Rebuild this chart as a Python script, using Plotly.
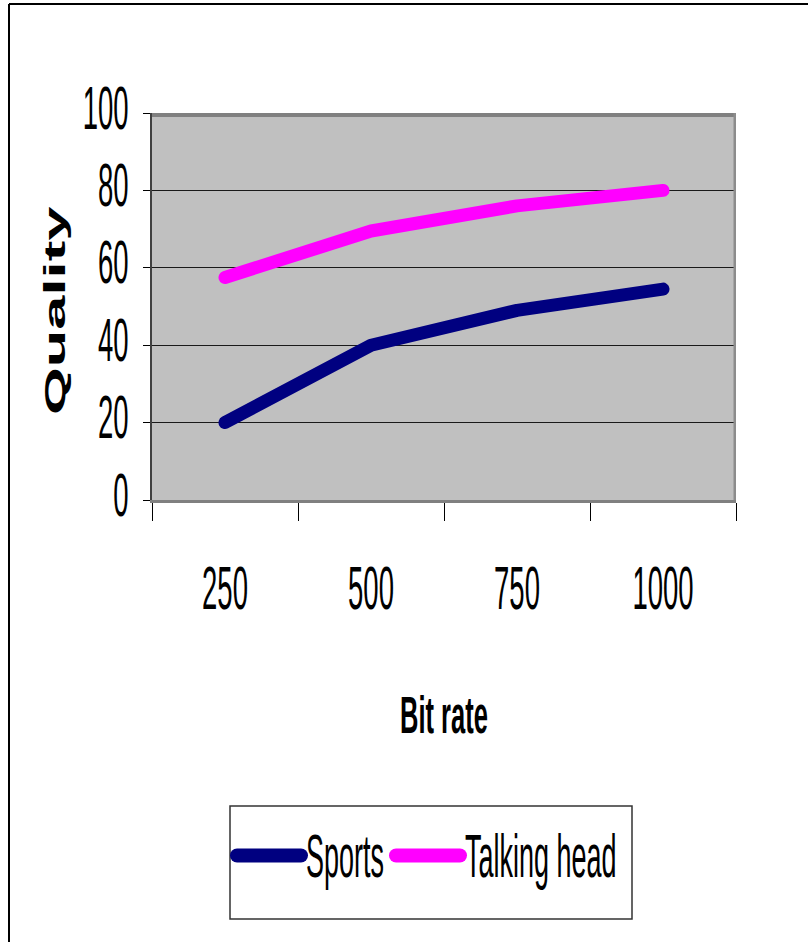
import plotly.graph_objects as go

bit_rate = ["250", "500", "750", "1000"]
sports = [20, 40, 49, 54.5]
talking_head = [57.5, 69.5, 76, 80]
y_ticks = [0, 20, 40, 60, 80, 100]

FONT = "Liberation Sans, Arial, sans-serif"

# pixel -> paper helpers (plot area: x 152..736, y 113..500)
L, R, T, B = 152, 736, 113, 500
def px(x):
    return (x - L) / (R - L)
def py(y):
    return (B - y) / (B - T)

fig = go.Figure()
fig.add_trace(go.Scatter(x=bit_rate, y=sports, mode="lines", name="Sports",
                         line=dict(color="#000080", width=13)))
fig.add_trace(go.Scatter(x=bit_rate, y=talking_head, mode="lines", name="Talking head",
                         line=dict(color="#FF00FF", width=13)))

fig.update_layout(
    width=808, height=942,
    margin=dict(l=L, r=808 - R, t=T, b=942 - B),
    paper_bgcolor="white", plot_bgcolor="#C0C0C0",
    showlegend=True,
    legend=dict(orientation="h", x=px(266), y=py(856), xanchor="left", yanchor="middle",
                font=dict(family=FONT, size=27, color="black"),
                bgcolor="rgba(0,0,0,0)", entrywidthmode="pixels", entrywidth=114),
    xaxis=dict(type="category", range=[-0.5, 3.5], tickson="boundaries", ticks="outside",
               ticklen=18, tickcolor="black", tickwidth=1, showgrid=False,
               showline=True, linecolor="#808080", linewidth=3,
               tickfont=dict(family=FONT, size=27.5, color="black"),
               ticklabelstandoff=61, fixedrange=True),
    yaxis=dict(range=[0, 100], tickvals=y_ticks, ticks="outside", ticklen=7,
               tickcolor="black", tickwidth=1, showgrid=True, gridcolor="#1a1a1a",
               gridwidth=1, zeroline=False,
               showline=True, linecolor="#404040", linewidth=2,
               tickfont=dict(family=FONT, size=27.5, color="black"),
               ticklabelstandoff=9, fixedrange=True),
    annotations=[
        dict(text="<b>Bit rate</b>", x=0.5, y=py(715), xref="paper", yref="paper",
             showarrow=False, xanchor="center", yanchor="middle",
             font=dict(family=FONT, size=25.5, color="black")),
        dict(text="<b>Quality</b>", x=px(54.5), y=py(311), xref="paper", yref="paper",
             showarrow=False, xanchor="center", yanchor="middle", textangle=-90,
             font=dict(family=FONT, size=30, color="black")),
    ],
    shapes=[
        dict(type="rect", xref="paper", yref="paper", x0=0, x1=1, y0=py(117), y1=1,
             fillcolor="#808080", line=dict(width=0)),
        dict(type="rect", xref="paper", yref="paper", x0=px(733.5), x1=1, y0=0, y1=1,
             fillcolor="#8c8c8c", line=dict(width=0)),
        dict(type="rect", xref="paper", yref="paper", x0=px(230), x1=px(632),
             y0=py(919), y1=py(806), line=dict(color="#333333", width=1.5)),
        dict(type="line", xref="paper", yref="paper", x0=px(9), x1=px(808),
             y0=py(4), y1=py(4), line=dict(color="black", width=2)),
        dict(type="line", xref="paper", yref="paper", x0=px(9), x1=px(9),
             y0=py(4), y1=py(942), line=dict(color="black", width=2)),
    ],
)

post_js = """
document.body.style.margin = '0';
(function(){
  function stretch(t, sx, sy, dy){
    var tr = t.getAttribute('transform') || '';
    if (tr.indexOf('scale(') >= 0) return;
    var b = t.getBBox();
    var cx = b.x + b.width/2, cy = b.y + b.height/2;
    t.setAttribute('transform', tr + ' translate(0,' + (dy || 0) + ') translate(' + cx + ',' + cy +
                   ') scale(' + sx + ',' + sy + ') translate(' + (-cx) + ',' + (-cy) + ')');
  }
  function apply(){
    document.querySelectorAll('.xtick text, .legendtext').forEach(function(t){ stretch(t, 1, 2.25, 0); });
    document.querySelectorAll('.ytick text').forEach(function(t){ stretch(t, 1, 2.25, -6); });
    document.querySelectorAll('.annotation-text').forEach(function(t){
      if (t.textContent.indexOf('Quality') >= 0) stretch(t, 2.05, 1, 0);
      else stretch(t, 1, 2.05, 0);
    });
    document.querySelectorAll('.js-line').forEach(function(p){
      p.style.strokeLinecap = 'round'; p.style.strokeLinejoin = 'round';
    });
    document.querySelectorAll('.legendlines path').forEach(function(p){
      p.setAttribute('d', 'M-29,0h64');
      p.style.strokeWidth = '14px';
      p.style.strokeLinecap = 'round';
    });
    document.querySelectorAll('.legend [clip-path]').forEach(function(e){
      e.removeAttribute('clip-path');
    });
  }
  var gd = document.getElementById('{plot_id}');
  if (gd && gd.on) gd.on('plotly_afterplot', apply);
  apply();
})();
"""

fig.write_html("out.html", post_script=post_js, config={"displayModeBar": False})
